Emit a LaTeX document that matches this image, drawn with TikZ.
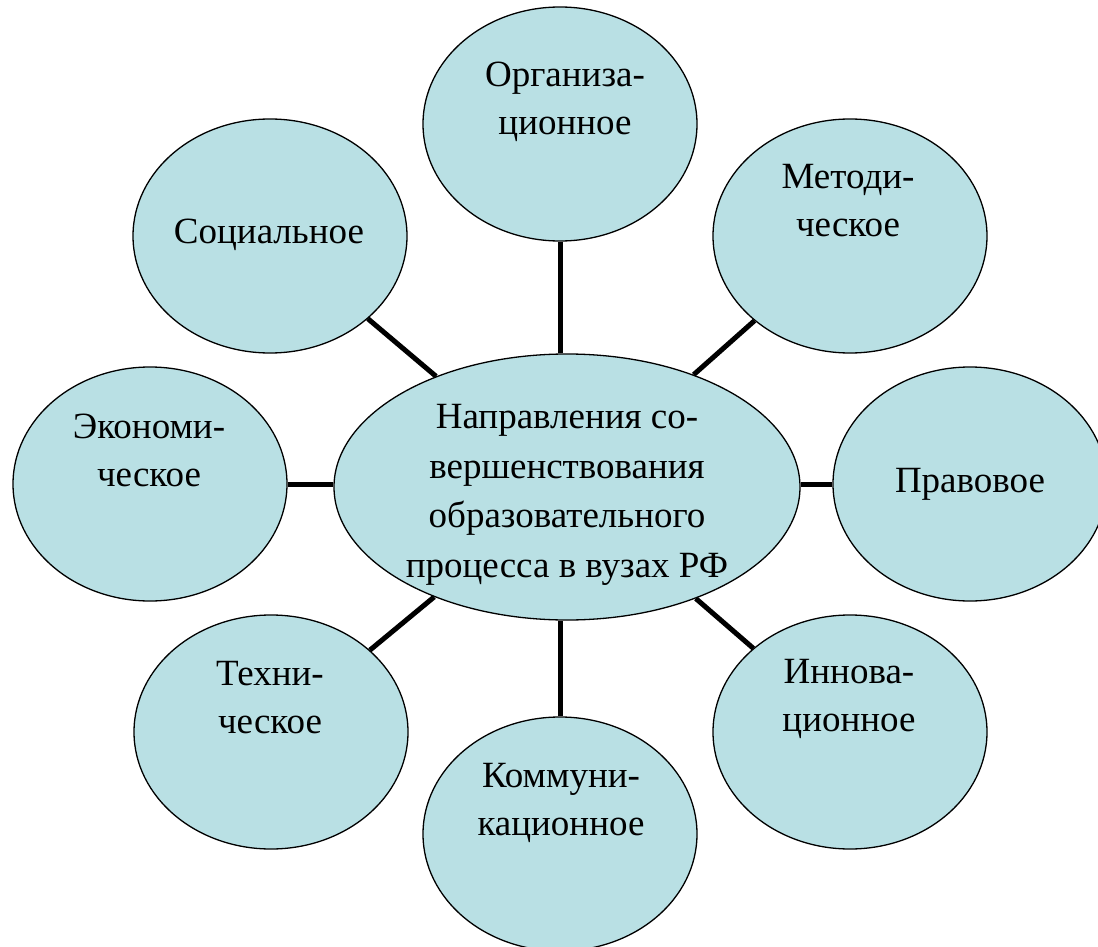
\documentclass[tikz,border=0pt]{standalone}
\usepackage{fontspec}
\setmainfont{Liberation Serif}
\usetikzlibrary{shapes.geometric}
\definecolor{bubble}{RGB}{185,224,228}
\tikzset{
  bub/.style={ellipse, draw=black, line width=1.3pt, fill=bubble, inner sep=0pt,
              minimum width=274pt, minimum height=234pt},
  lbl/.style={anchor=base, align=center, inner sep=0pt, font=\fontsize{37}{48}\selectfont},
  conn/.style={line width=5pt, black}
}
\begin{document}
\begin{tikzpicture}[x=1pt,y=-1pt]
\useasboundingbox (0,0) rectangle (1098,947);
% center
\node[bub, minimum width=466pt, minimum height=266pt] (c) at (567,487) {};
% outer ellipses
\node[bub] (o) at (560,124) {};
\node[bub] (s) at (270,236) {};
\node[bub] (m) at (850,236) {};
\node[bub] (e) at (150,484) {};
\node[bub] (p) at (970,484) {};
\node[bub] (t) at (271,732) {};
\node[bub] (i) at (850,732) {};
\node[bub] (k) at (560,834) {};
% connectors
\draw[conn] (o.south) -- (o.south |- c.north);
\draw[conn] (k.north) -- (k.north |- c.south);
\draw[conn] (e.east) -- (e.east -| c.west);
\draw[conn] (p.west) -- (p.west -| c.east);
\draw[conn] (c) -- (s);
\draw[conn] (c) -- (m);
\draw[conn] (c) -- (t);
\draw[conn] (c) -- (i);
% labels (anchor base = baseline of last line)
\node[lbl, font=\fontsize{37}{49.4}\selectfont] (tc) at (567,577) {Направления со-\\вершенствования\\образовательного\\процесса в вузах РФ};
\node[lbl] (to) at (565,135) {Организа-\\ционное};
\node[lbl] (ts) at (269,243) {Социальное};
\node[lbl] (tm) at (848,236) {Методи-\\ческое};
\node[lbl] (te) at (149,486) {Экономи-\\ческое};
\node[lbl] (tp) at (970,492) {Правовое};
\node[lbl] (tt) at (270,733) {Техни-\\ческое};
\node[lbl] (ti) at (849,731) {Иннова-\\ционное};
\node[lbl] (tk) at (561,835) {Коммуни-\\кационное};
\end{tikzpicture}
\end{document}
